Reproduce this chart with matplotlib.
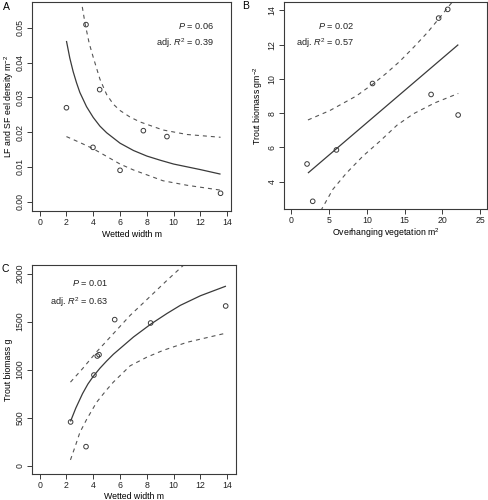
import matplotlib

matplotlib.use("Agg")
import matplotlib.pyplot as plt

plt.rcParams["font.family"] = ["Liberation Sans", "DejaVu Sans"]
plt.rcParams["mathtext.fontset"] = "custom"
plt.rcParams["mathtext.rm"] = "Liberation Sans"
plt.rcParams["mathtext.it"] = "Liberation Sans:italic"
plt.rcParams["font.size"] = 6.3

INK = "#3a3a3a"

# panel A: eel density vs wetted width
a_width = [2.0, 3.46, 4.48, 3.98, 6.0, 7.74, 9.5, 13.5]
a_density = [0.0270, 0.0509, 0.0322, 0.0156, 0.0090, 0.0204, 0.0187, 0.0024]
a_fit_x = [2.0, 2.25, 2.5, 2.75, 3.0, 3.5, 4.0, 4.5, 5.0, 6.0, 7.0, 8.0, 9.0, 10.0,
           11.0, 12.0, 13.5]
a_fit_y = [0.0462, 0.0413, 0.0374, 0.0342, 0.0314, 0.0273, 0.0242, 0.0217, 0.0198,
           0.0168, 0.0147, 0.0131, 0.0119, 0.0108, 0.0100, 0.0092, 0.0079]
a_up_x = [3.05, 3.4, 3.7, 4.0, 4.5, 5.0, 5.5, 6.0, 6.75, 7.5, 9.2, 11.0, 13.5]
a_up_y = [0.0590, 0.0510, 0.0455, 0.0415, 0.0352, 0.0308, 0.0280, 0.0262, 0.0243,
          0.0229, 0.0206, 0.0193, 0.0185]
a_lo_x = [2.0, 3.0, 4.0, 5.0, 6.0, 7.0, 8.0, 9.2, 11.0, 13.5]
a_lo_y = [0.0187, 0.0170, 0.0152, 0.0130, 0.0108, 0.0091, 0.0077, 0.0060, 0.0047, 0.0033]

# panel B: trout biomass per area vs overhanging vegetation
b_veg = [2.08, 2.83, 5.97, 10.75, 18.5, 22.08, 19.5, 20.7]
b_biomass = [5.03, 2.85, 5.85, 9.73, 9.09, 7.89, 13.55, 14.06]
b_fit_x = [2.2, 22.1]
b_fit_y = [4.5, 12.0]
b_up_x = [2.2, 5.1, 8.6, 10.8, 12.5, 14.3, 16.2, 18.0, 19.5, 21.5]
b_up_y = [7.6, 8.15, 9.0, 9.7, 10.3, 11.0, 11.85, 12.7, 13.5, 14.6]
b_lo_x = [3.9, 5.5, 7.3, 9.5, 11.7, 14.0, 16.2, 19.0, 22.1]
b_lo_y = [2.3, 3.55, 4.5, 5.5, 6.35, 7.3, 7.97, 8.6, 9.15]

# panel C: trout biomass vs wetted width
c_width = [2.31, 3.46, 4.05, 4.30, 4.43, 5.6, 8.28, 13.88]
c_biomass = [455, 198, 944, 1142, 1156, 1521, 1486, 1663]
c_fit_x = [2.3, 2.7, 3.2, 3.6, 4.0, 4.5, 5.0, 5.5, 6.0, 7.0, 8.3, 9.5, 10.5, 12.0, 13.9]
c_fit_y = [460, 600, 750, 850, 930, 1015, 1090, 1160, 1220, 1340, 1475, 1585, 1670,
           1770, 1870]
c_up_x = [2.3, 3.2, 4.25, 5.5, 6.75, 8.0, 9.5, 10.75, 11.0]
c_up_y = [870, 1010, 1185, 1375, 1565, 1730, 1930, 2090, 2125]
c_lo_x = [2.3, 2.7, 3.0, 3.5, 4.25, 5.0, 5.5, 6.75, 8.0, 9.2, 11.0, 13.9]
c_lo_y = [60, 220, 345, 480, 660, 790, 870, 1040, 1130, 1200, 1285, 1380]

W, H = 489, 500


def _axes(fig, left, top, right, bottom):
    ax = fig.add_axes([left / W, 1 - bottom / H, (right - left) / W, (bottom - top) / H])
    for spine in ax.spines.values():
        spine.set_color(INK)
        spine.set_linewidth(0.8)
    ax.tick_params(direction="out", length=3.6, width=0.7, color=INK, pad=1.6,
                   labelcolor="#222222", labelsize=6.3)
    return ax


def _draw(ax, pts_x, pts_y, fit, up, lo):
    ax.plot(*fit, color=INK, lw=0.9, solid_capstyle="butt")
    for band in (up, lo):
        ax.plot(*band, color="#555555", lw=0.8, dashes=(3.6, 3.6))
    ax.scatter(pts_x, pts_y, s=11, facecolors="none", edgecolors=INK, linewidths=0.7, zorder=3)


def _ylabel(ax, text, x_px, left_px, width_px):
    ax.set_ylabel(text, va="center")
    ax.yaxis.set_label_coords((x_px - left_px) / width_px, 0.5)


def _stats(ax, x, y_p, y_r, p, r2):
    kw = dict(transform=ax.transAxes, ha="right", va="center", fontsize=6.6, color="#222222")
    ax.text(x, y_p, r"$P$ = " + p, **kw)
    ax.text(x, y_r, r"adj. $R^2$ = " + r2, **kw)


fig = plt.figure(figsize=(W / 100, H / 100), dpi=100)

ax = _axes(fig, 32, 2, 231, 211)
_draw(ax, a_width, a_density, (a_fit_x, a_fit_y), (a_up_x, a_up_y), (a_lo_x, a_lo_y))
ax.set_xlim(-0.57, 14.28)
ax.set_ylim(-0.0027, 0.0574)
ax.set_xticks(range(0, 15, 2))
ax.set_yticks([0.0, 0.01, 0.02, 0.03, 0.04, 0.05])
ax.set_yticklabels(["0.00", "0.01", "0.02", "0.03", "0.04", "0.05"], rotation=90, va="center")
ax.set_xlabel("Wetted width m", labelpad=2)
_ylabel(ax, r"LF and SF eel density m$^{-2}$", 9, 32, 199)
_stats(ax, (214 - 32) / 199, (211 - 26) / 209, (211 - 43) / 209, "0.06", "0.39")
fig.text(3 / W, 1 - 7 / H, "A", fontsize=7.5, va="center", ha="left")

ax = _axes(fig, 284, 2, 487, 209)
_draw(ax, b_veg, b_biomass, (b_fit_x, b_fit_y), (b_up_x, b_up_y), (b_lo_x, b_lo_y))
ax.set_xlim(-0.97, 25.9)
ax.set_ylim(2.40, 14.49)
ax.set_xticks(range(0, 26, 5))
ax.set_yticks(range(4, 15, 2))
ax.set_yticklabels([str(v) for v in range(4, 15, 2)], rotation=90, va="center")
ax.set_xlabel(r"Overhanging vegetation m$^{2}$", labelpad=1)
_ylabel(ax, r"Trout biomass gm$^{-2}$", 258, 284, 203)
_stats(ax, (354 - 284) / 203, (209 - 26) / 207, (209 - 43) / 207, "0.02", "0.57")
fig.text(242 / W, 1 - 6 / H, "B", fontsize=7.5, va="center", ha="left")

ax = _axes(fig, 32, 265, 236, 474)
_draw(ax, c_width, c_biomass, (c_fit_x, c_fit_y), (c_up_x, c_up_y), (c_lo_x, c_lo_y))
ax.set_xlim(-0.57, 14.65)
ax.set_ylim(-87, 2090)
ax.set_xticks(range(0, 15, 2))
ax.set_yticks(range(0, 2001, 500))
ax.set_yticklabels([str(v) for v in range(0, 2001, 500)], rotation=90, va="center")
ax.set_xlabel("Wetted width m", labelpad=1)
_ylabel(ax, "Trout biomass g", 8, 32, 204)
_stats(ax, (108 - 32) / 204, (474 - 283) / 209, (474 - 302) / 209, "0.01", "0.63")
fig.text(2 / W, 1 - 269 / H, "C", fontsize=7.5, va="center", ha="left")

fig.savefig("out.png", dpi=100, facecolor="white")
